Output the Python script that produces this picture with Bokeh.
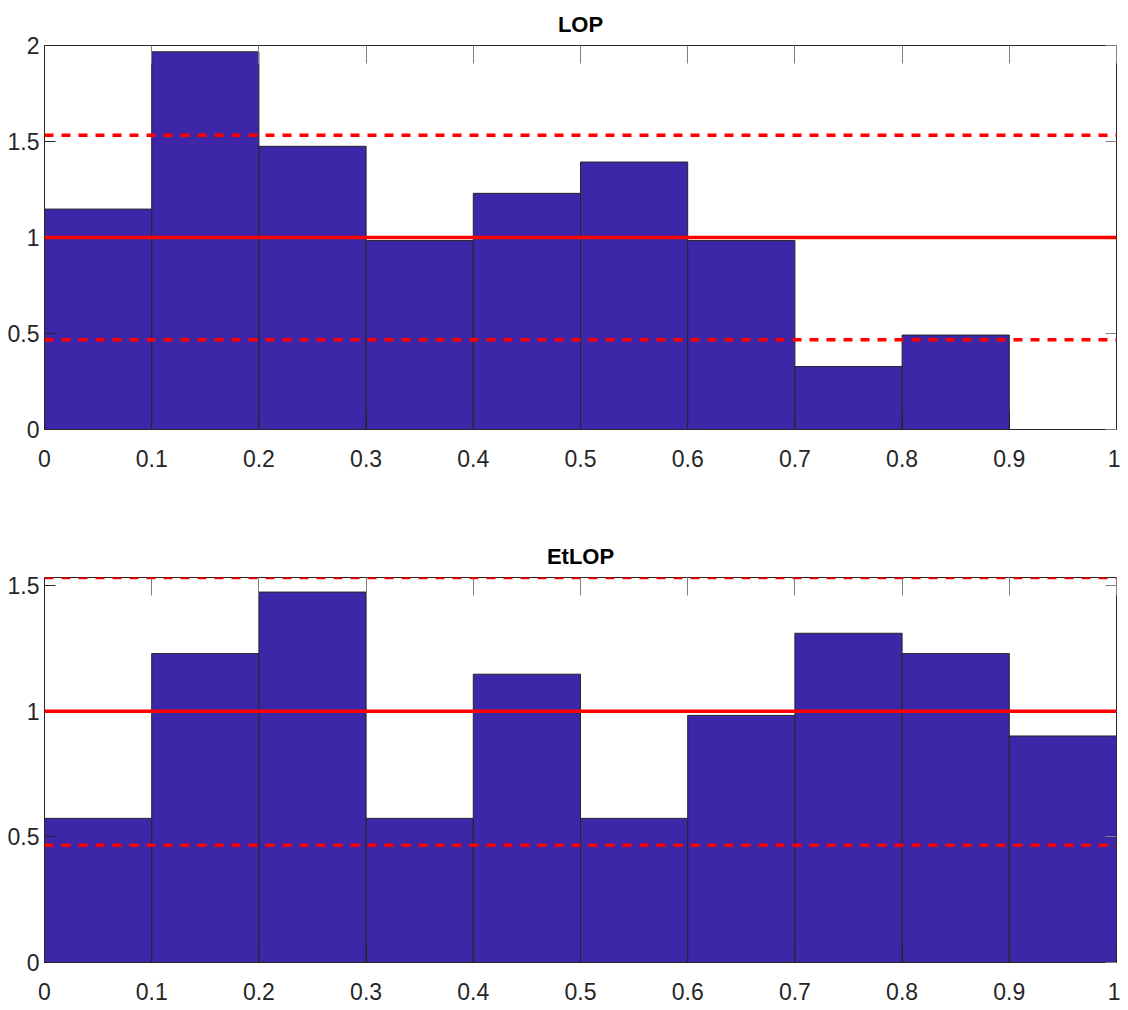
from bokeh.plotting import figure
from bokeh.layouts import column
from bokeh.models import FixedTicker, LinearAxis, Span, Range1d
from bokeh.embed import file_html
from bokeh.resources import INLINE

# ---- data ----
bin_edges = [0.0, 0.1, 0.2, 0.3, 0.4, 0.5, 0.6, 0.7, 0.8, 0.9, 1.0]
lop_values = [1.148, 1.967, 1.475, 0.984, 1.230, 1.393, 0.984, 0.328, 0.492, 0.0]
etlop_values = [0.574, 1.230, 1.475, 0.574, 1.148, 0.574, 0.984, 1.311, 1.230, 0.902]
mean_level = 1.0
upper_bound = 1.533
lower_bound = 0.467

x_ticks = [0, 0.1, 0.2, 0.3, 0.4, 0.5, 0.6, 0.7, 0.8, 0.9, 1.0]
x_tick_labels = ["0", "0.1", "0.2", "0.3", "0.4", "0.5", "0.6", "0.7", "0.8", "0.9", "1"]
lop_y_ticks = [0, 0.5, 1, 1.5, 2]
lop_y_labels = ["0", "0.5", "1", "1.5", "2"]
etlop_y_ticks = [0, 0.5, 1, 1.5]
etlop_y_labels = ["0", "0.5", "1", "1.5"]

FONT = "Liberation Sans"
AX = "#262626"
BAR = "#3e26a8"


def make(title, vals, ymax, yticks, ylabels, height, top_border, bottom_border):
    p = figure(width=1120, height=height, x_range=Range1d(0, 1), y_range=Range1d(0, ymax),
               output_backend="svg", toolbar_location=None, title=title,
               min_border_left=44, min_border_right=4,
               min_border_top=top_border, min_border_bottom=bottom_border)
    p.xaxis.visible = False
    p.yaxis.visible = False
    p.grid.visible = False
    p.outline_line_color = AX
    p.outline_line_width = 1

    p.title.text_font = FONT
    p.title.text_font_style = "bold"
    p.title.text_font_size = "22px"
    p.title.align = "center"
    p.title.text_color = "#000000"
    p.title.standoff = 18

    p.quad(left=bin_edges[:-1], right=bin_edges[1:], top=vals, bottom=0,
           fill_color=BAR, line_color=AX, line_width=1)

    p.add_layout(Span(location=mean_level, dimension="width", line_color="#ff0000",
                      line_width=3.5))
    for b in (upper_bound, lower_bound):
        p.add_layout(Span(location=b, dimension="width", line_color="#ff0000",
                          line_width=3.5, line_dash="9 8", level="overlay"))

    xo = {v: l for v, l in zip(x_ticks, x_tick_labels)}
    yo = {v: l for v, l in zip(yticks, ylabels)}

    xb = LinearAxis(ticker=FixedTicker(ticks=x_ticks), major_label_overrides=xo,
                    major_tick_in=18, major_tick_out=0, minor_tick_line_color=None,
                    axis_line_color=AX, major_tick_line_color=AX,
                    major_label_text_font=FONT, major_label_text_font_size="23px",
                    major_label_text_color="#262626", major_label_standoff=20)
    yl = LinearAxis(ticker=FixedTicker(ticks=yticks), major_label_overrides=yo,
                    major_tick_in=11, major_tick_out=0, minor_tick_line_color=None,
                    axis_line_color=AX, major_tick_line_color=AX,
                    major_label_text_font=FONT, major_label_text_font_size="23px",
                    major_label_text_color="#262626", major_label_standoff=5)
    xt = LinearAxis(ticker=FixedTicker(ticks=x_ticks),
                    major_label_overrides={v: "" for v in x_ticks},
                    major_tick_in=18, major_tick_out=0, minor_tick_line_color=None,
                    axis_line_color=None, major_tick_line_color="#808080",
                    major_label_text_font_size="0px", major_label_standoff=0)
    yr = LinearAxis(ticker=FixedTicker(ticks=yticks),
                    major_label_overrides={v: "" for v in yticks},
                    major_tick_in=11, major_tick_out=0, minor_tick_line_color=None,
                    axis_line_color=None, major_tick_line_color="#808080",
                    major_label_text_font_size="0px", major_label_standoff=0)
    p.add_layout(xb, "below")
    p.add_layout(yl, "left")
    p.add_layout(xt, "above")
    p.add_layout(yr, "right")
    return p


p1 = make("LOP", lop_values, 2.0, lop_y_ticks, lop_y_labels, 500, 43, 71)
p2 = make("EtLOP", etlop_values, upper_bound, etlop_y_ticks, etlop_y_labels, 508, 77, 46)

layout = column(p1, p2, spacing=0)
open("out.html", "w").write(file_html(layout, INLINE))
